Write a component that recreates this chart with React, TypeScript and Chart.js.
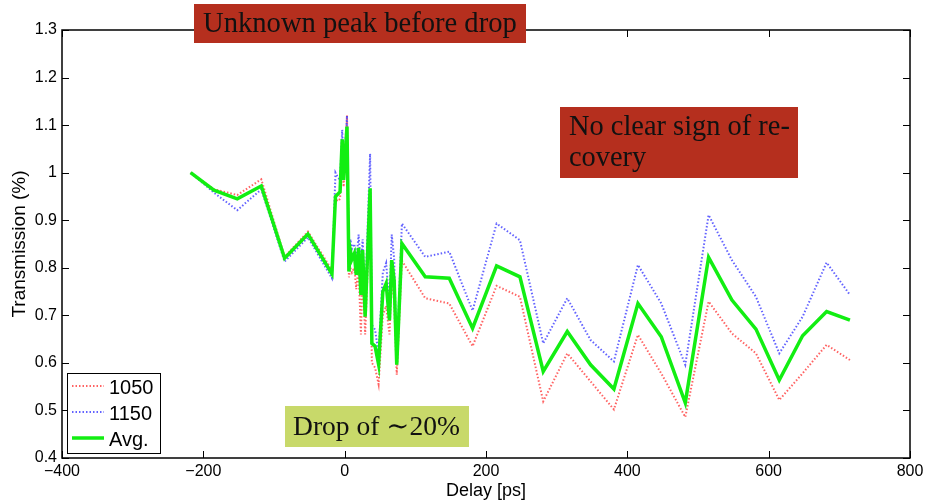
import React, { useEffect, useRef } from "react";
import { Chart, registerables } from "chart.js";

Chart.register(...registerables);

// Delay [ps]
const delays = [
  -218, -185, -152, -118, -85, -52, -18,
  -13, -9.5, -6.5, -3.5, -1.5, 3.3, 6, 8, 10.3, 13.7, 16.4, 19.7, 23, 25.4, 29, 36, 38.5, 43, 48, 54, 58.7, 63.4, 66.6, 70, 73.7,
  81, 114, 148, 181, 215, 248, 281, 315, 348, 381, 415, 448, 482, 515, 548, 582, 615, 648, 682, 715,
];

const t1050 = [
  1.0, 0.965, 0.953, 0.986, 0.823, 0.876, 0.795,
  0.945, 0.94, 0.945, 1.05, 0.97, 1.12, 0.78, 0.8, 0.79, 0.8, 0.755, 0.8, 0.66, 0.8, 0.66, 0.93, 0.6, 0.59, 0.555, 0.7, 0.72, 0.66, 0.78, 0.73, 0.575,
  0.815, 0.736, 0.725, 0.635, 0.762, 0.739, 0.519, 0.62, 0.561, 0.502, 0.659, 0.578, 0.486, 0.729, 0.662, 0.62, 0.522, 0.578, 0.638, 0.606,
];

const t1150 = [
  1.0, 0.958, 0.921, 0.965, 0.813, 0.864, 0.778,
  1.0, 0.99, 0.985, 1.09, 1.0, 1.12, 0.81, 0.86, 0.84, 0.85, 0.81, 0.87, 0.8, 0.86, 0.73, 1.04, 0.68, 0.67, 0.62, 0.79, 0.81, 0.72, 0.87, 0.82, 0.61,
  0.893, 0.823, 0.834, 0.71, 0.893, 0.858, 0.641, 0.736, 0.648, 0.603, 0.806, 0.725, 0.596, 0.911, 0.816, 0.739, 0.62, 0.697, 0.811, 0.743,
];

const tAvg = [
  1.0, 0.963, 0.945, 0.972, 0.82, 0.871, 0.787,
  0.95, 0.955, 0.96, 1.07, 0.985, 1.097, 0.792, 0.837, 0.818, 0.83, 0.785, 0.842, 0.743, 0.837, 0.697, 0.967, 0.641, 0.635, 0.597, 0.75, 0.767, 0.69, 0.816, 0.774, 0.596,
  0.851, 0.781, 0.778, 0.673, 0.804, 0.781, 0.582, 0.666, 0.596, 0.545, 0.725, 0.655, 0.516, 0.822, 0.732, 0.671, 0.564, 0.657, 0.708, 0.69,
];

const xTicks = [-400, -200, 0, 200, 400, 600, 800];
const yTicks = [0.4, 0.5, 0.6, 0.7, 0.8, 0.9, 1.0, 1.1, 1.2, 1.3];
const seriesLabels = ["1050", "1150", "Avg."];
const xTitle = "Delay [ps]";
const yTitle = "Transmission (%)";
const noteTop = ["Unknown peak before drop"];
const noteRight = ["No clear sign of re-", "covery"];
const noteBottom = ["Drop of \u223C20%"];

const RED = "rgba(255,60,60,0.8)";
const BLUE = "rgba(60,60,255,0.8)";
const GREEN = "#12ee12";
const SANS = "'Liberation Sans', Arial, sans-serif";
const SERIF = "'Liberation Serif', 'DejaVu Serif', serif";

const toPts = (ys: number[]) => delays.map((x, i) => ({ x, y: ys[i] }));

const decorPlugin = {
  id: "decor",
  afterDatasetsDraw(chart: any) {
    const ctx = chart.ctx as CanvasRenderingContext2D;
    const { left, right, top, bottom } = chart.chartArea;
    const xs = chart.scales.x;
    const ys = chart.scales.y;
    ctx.save();
    // box
    ctx.strokeStyle = "#000";
    ctx.lineWidth = 1.5;
    ctx.strokeRect(left, top, right - left, bottom - top);
    // inward ticks on all sides
    ctx.lineWidth = 1;
    const tl = 7;
    ctx.beginPath();
    xTicks.forEach((v) => {
      const px = Math.round(xs.getPixelForValue(v)) + 0.5;
      ctx.moveTo(px, bottom);
      ctx.lineTo(px, bottom - tl);
      ctx.moveTo(px, top);
      ctx.lineTo(px, top + tl);
    });
    yTicks.forEach((v) => {
      const py = Math.round(ys.getPixelForValue(v)) + 0.5;
      ctx.moveTo(left, py);
      ctx.lineTo(left + tl, py);
      ctx.moveTo(right, py);
      ctx.lineTo(right - tl, py);
    });
    ctx.stroke();

    // legend
    const lx0 = left + 5, ly0 = 373, lw = 93, lh = 80;
    ctx.fillStyle = "#fff";
    ctx.fillRect(lx0, ly0, lw, lh);
    ctx.strokeStyle = "#000";
    ctx.lineWidth = 1;
    ctx.strokeRect(lx0 + 0.5, ly0 + 0.5, lw, lh);
    const rows = [
      { c: RED, w: 2, dash: [1.5, 2] },
      { c: BLUE, w: 2, dash: [1.5, 2] },
      { c: GREEN, w: 3.5, dash: [] as number[] },
    ];
    ctx.font = `20px ${SANS}`;
    ctx.textBaseline = "alphabetic";
    ctx.textAlign = "left";
    rows.forEach((r, i) => {
      const cy = ly0 + 13 + i * 26;
      ctx.beginPath();
      ctx.setLineDash(r.dash);
      ctx.strokeStyle = r.c;
      ctx.lineWidth = r.w;
      ctx.moveTo(lx0 + 5, cy);
      ctx.lineTo(lx0 + 37, cy);
      ctx.stroke();
      ctx.setLineDash([]);
      ctx.fillStyle = "#000";
      ctx.fillText(seriesLabels[i], lx0 + 42, cy + 8);
    });

    // annotation boxes
    const drawNote = (
      lines: string[], bx: number, by: number, bw: number, bh: number,
      fill: string, tx: number, baselines: number[], targetW: number
    ) => {
      ctx.fillStyle = fill;
      ctx.fillRect(bx, by, bw, bh);
      ctx.font = `24px ${SERIF}`;
      const mw = ctx.measureText(lines[0]).width;
      const size = Math.max(14, Math.min(32, (24 * targetW) / mw));
      ctx.font = `${size}px ${SERIF}`;
      ctx.fillStyle = "#111";
      lines.forEach((ln, i) => ctx.fillText(ln, tx, baselines[i]));
    };
    drawNote(noteTop, 194, 4, 332, 39, "#b52f1e", 203, [32], 314);
    drawNote(noteRight, 560, 107, 238, 71, "#b52f1e", 569, [135, 166], 221);
    drawNote(noteBottom, 285, 406, 184, 41, "#c8d96a", 293, [435], 167);
    ctx.restore();
  },
};

export default function App() {
  const ref = useRef<HTMLCanvasElement | null>(null);
  useEffect(() => {
    document.body.style.margin = "0";
    const canvas = ref.current!;
    const chart = new Chart(canvas, {
      type: "line",
      data: {
        datasets: [
          {
            label: seriesLabels[0], data: toPts(t1050), borderColor: RED, borderWidth: 2,
            borderDash: [1.5, 2], pointRadius: 0, tension: 0, order: 2, fill: false,
          },
          {
            label: seriesLabels[1], data: toPts(t1150), borderColor: BLUE, borderWidth: 2,
            borderDash: [1.5, 2], pointRadius: 0, tension: 0, order: 1, fill: false,
          },
          {
            label: seriesLabels[2], data: toPts(tAvg), borderColor: GREEN, borderWidth: 3.5,
            pointRadius: 0, tension: 0, order: 0, fill: false,
          },
        ],
      },
      options: {
        responsive: false,
        animation: false,
        devicePixelRatio: 1,
        layout: { padding: { top: 30, right: 22, left: 0, bottom: 0 } },
        plugins: { legend: { display: false }, tooltip: { enabled: false } },
        scales: {
          x: {
            type: "linear",
            min: -400,
            max: 800,
            afterBuildTicks: (s: any) => { s.ticks = xTicks.map((v) => ({ value: v })); },
            afterFit: (s: any) => { s.height = 45; },
            grid: { display: false, drawTicks: false, tickLength: 0 },
            border: { display: false },
            ticks: {
              color: "#000",
              font: { family: SANS, size: 16 },
              padding: 4,
              maxRotation: 0,
              autoSkip: false,
              callback: (v: any) => String(v).replace("-", "\u2212"),
            },
            title: {
              display: true, text: xTitle, color: "#000",
              font: { family: SANS, size: 18 }, padding: { top: 0, bottom: 1 },
            },
          },
          y: {
            type: "linear",
            min: 0.4,
            max: 1.3,
            afterBuildTicks: (s: any) => { s.ticks = yTicks.map((v) => ({ value: v })); },
            afterFit: (s: any) => { s.width = 62; },
            grid: { display: false, drawTicks: false, tickLength: 0 },
            border: { display: false },
            ticks: {
              color: "#000",
              font: { family: SANS, size: 16 },
              padding: 5,
              autoSkip: false,
              callback: (v: any) => String(Math.round(Number(v) * 10) / 10),
            },
            title: {
              display: true, text: yTitle, color: "#000",
              font: { family: SANS, size: 19 }, padding: { top: 8, bottom: 0 },
            },
          },
        },
      },
      plugins: [decorPlugin],
    });
    return () => chart.destroy();
  }, []);
  return (
    <div style={{ width: 932, height: 503, background: "#fff" }}>
      <canvas ref={ref} width={932} height={503} style={{ display: "block" }} />
    </div>
  );
}
